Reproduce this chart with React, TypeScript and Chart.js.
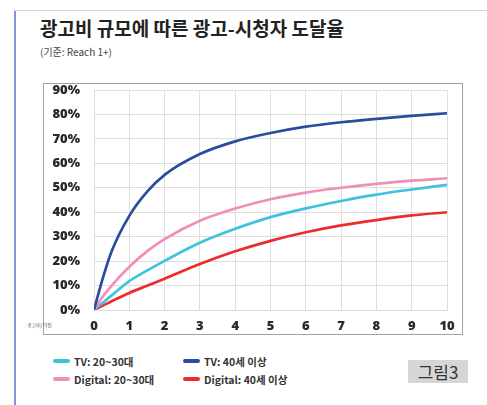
import React, { useEffect, useRef } from "react";
import { Chart, registerables } from "chart.js";

Chart.register(...registerables);

const xValues = [0, 0.25, 0.5, 1, 1.5, 2, 3, 4, 5, 6, 7, 8, 9, 10];
const tv2030 = [0, 3, 6, 11.8, 16.1, 20.1, 27.5, 33.2, 38, 41.6, 44.6, 47.2, 49.3, 51.2];
const tv40 = [0, 13, 24, 38.5, 48.3, 55.3, 63.8, 69, 72.4, 75, 76.8, 78.2, 79.4, 80.5];
const dig2030 = [0, 5.5, 10, 17.7, 24, 29, 36.5, 41.5, 45.3, 48, 50, 51.6, 52.9, 53.9];
const dig40 = [0, 1.8, 3.6, 7, 9.9, 12.8, 18.8, 24, 28.3, 31.8, 34.6, 36.8, 38.7, 40];
const seriesNames = ["TV: 20~30대", "TV: 40세 이상", "Digital: 20~30대", "Digital: 40세 이상"];
const seriesColors = ["#3ec3de", "#2a4c9f", "#ef8fba", "#ee2b2b"];
const title = "광고비 규모에 따른 광고-시청자 도달율";
const subtitle = "(기준: Reach 1+)";

const KR = "'Noto Sans CJK KR', 'Noto Sans', sans-serif";
const TICK = "'Open Sans', 'Noto Sans', sans-serif";

const boxBorder = {
  id: "boxBorder",
  afterDraw(chart: any) {
    const ctx = chart.ctx;
    ctx.save();
    ctx.strokeStyle = "#a2a2a2";
    ctx.lineWidth = 1;
    ctx.strokeRect(0.5, 0.5, chart.width - 1, chart.height - 1);
    ctx.restore();
  },
};

export default function App() {
  const ref = useRef<HTMLCanvasElement | null>(null);
  useEffect(() => {
    document.body.style.margin = "0";
    const all = [tv2030, tv40, dig2030, dig40];
    const order = [1, 2, 0, 3];
    const chart = new Chart(ref.current!, {
      type: "line",
      data: {
        datasets: order.map((i) => ({
          label: seriesNames[i],
          data: xValues.map((x, k) => ({ x, y: all[i][k] })),
          borderColor: seriesColors[i],
          backgroundColor: seriesColors[i],
          borderWidth: 2.7,
          pointRadius: 0,
          cubicInterpolationMode: "monotone" as const,
          fill: false,
        })),
      },
      options: {
        animation: false,
        responsive: false,
        maintainAspectRatio: false,
        layout: { padding: { left: 0, right: 16, top: 7, bottom: 0 } },
        plugins: { legend: { display: false }, tooltip: { enabled: false } },
        scales: {
          x: {
            type: "linear",
            min: 0,
            max: 10,
            ticks: {
              stepSize: 1,
              padding: 8,
              color: "#2a2a2a",
              font: { family: TICK, size: 13, weight: 800 },
            },
            grid: { color: "#dedede", drawTicks: false },
            border: { color: "#dedede" },
            afterFit: (s: any) => {
              s.height = 25;
            },
          },
          y: {
            min: 0,
            max: 90,
            ticks: {
              stepSize: 10,
              padding: 14,
              color: "#2a2a2a",
              callback: (v: any) => v + "%",
              font: { family: TICK, size: 13, weight: 800 },
            },
            grid: { color: "#dedede", drawTicks: false },
            border: { color: "#dedede" },
            afterFit: (s: any) => {
              s.width = 51;
              s.paddingTop = 7;
              s.paddingBottom = 7;
            },
          },
        },
      },
      plugins: [boxBorder],
    });
    return () => chart.destroy();
  }, []);

  const legendItem = (i: number, left: number, top: number) => (
    <div key={i} style={{ position: "absolute", left, top, display: "flex", alignItems: "center", height: 14 }}>
      <div style={{ width: 17, height: 4, borderRadius: 2, background: seriesColors[i], marginRight: 4 }} />
      <span style={{ fontFamily: KR, fontSize: 10.5, fontWeight: 700, color: "#333", whiteSpace: "nowrap" }}>
        {seriesNames[i]}
      </span>
    </div>
  );

  return (
    <div style={{ position: "fixed", left: 0, top: 0, width: 487, height: 405, background: "#fff", overflow: "hidden" }}>
      <div style={{ position: "absolute", left: 14, top: 10, width: 2, height: 395, background: "#7e9ad6" }} />
      <div style={{ position: "absolute", left: 14, top: 10, width: 473, height: 1, background: "#c9d6ee" }} />
      <div style={{ position: "absolute", left: 40, top: 15, fontFamily: KR, fontSize: 19, fontWeight: 700, color: "#222", whiteSpace: "nowrap", lineHeight: "26px" }}>
        {title}
      </div>
      <div style={{ position: "absolute", left: 40, top: 45, fontFamily: KR, fontSize: 10, color: "#444", whiteSpace: "nowrap", lineHeight: "14px" }}>
        {subtitle}
      </div>
      <canvas ref={ref} width={420} height={252} style={{ position: "absolute", left: 43, top: 83, width: 420, height: 252 }} />
      <div style={{ position: "absolute", left: 27, top: 321, fontFamily: KR, fontSize: 5, color: "#666", whiteSpace: "nowrap" }}>
        광고비/억원
      </div>
      {legendItem(0, 53, 354)}
      {legendItem(1, 183, 354)}
      {legendItem(2, 53, 372)}
      {legendItem(3, 183, 372)}
      <div style={{ position: "absolute", left: 408, top: 360, width: 60, height: 23, background: "#d6d6d6", display: "flex", alignItems: "center", justifyContent: "center", fontFamily: KR, fontSize: 17, color: "#333" }}>
        그림3
      </div>
    </div>
  );
}
